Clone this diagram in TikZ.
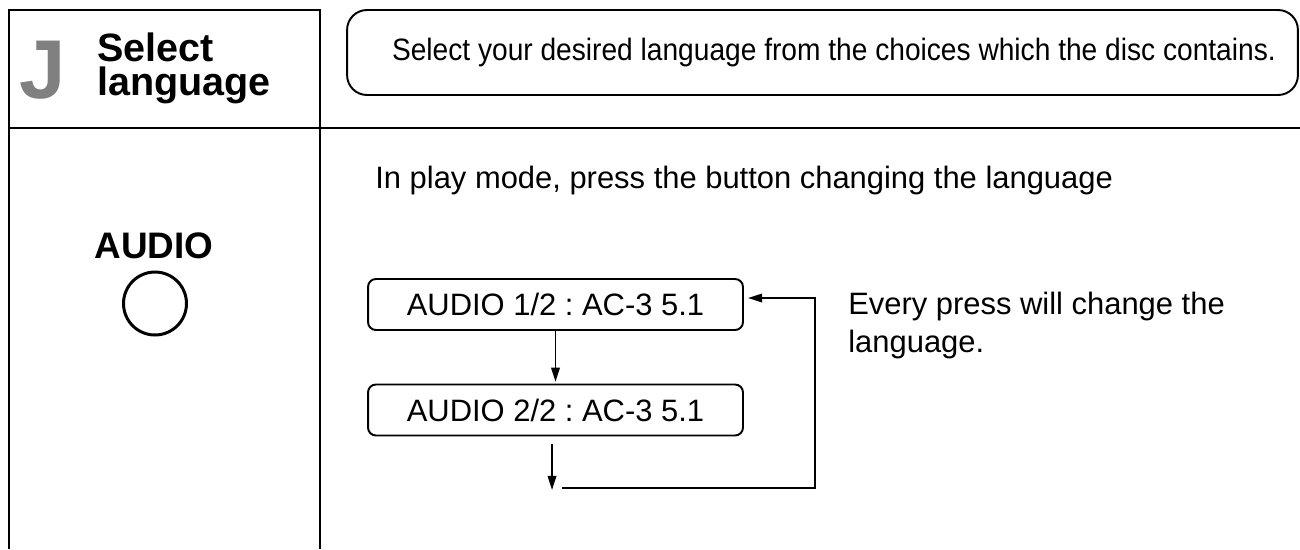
\documentclass[tikz,border=0pt]{standalone}
\usepackage{fontspec}
\setmainfont{Liberation Sans}
\newfontfamily\narrowfont{Liberation Sans}[FakeStretch=0.91]
\usetikzlibrary{arrows.meta}
\usetikzlibrary{positioning}
\frenchspacing

\begin{document}
\begin{tikzpicture}[
    x=0.02cm, y=-0.02cm,
    frame/.style={line width=1.1pt},
    track/.style={draw, line width=1.1pt, rounded corners=4.5pt, minimum width=7.5cm, minimum height=1.02cm, inner sep=0pt, font=\fontsize{17.6}{21.5}\selectfont},
    plain/.style={inner sep=0pt, font=\fontsize{17.6}{21.5}\selectfont},
    >={Triangle[length=8pt, width=4.8pt]}
]
\useasboundingbox (0,0) rectangle (1300,549);

% --- Frame ---
\draw[frame] (9,549) -- (9,10) -- (320,10) -- (320,549);
\draw[frame] (9,128) -- (1300,128);

% --- Heading ---
\node[inner sep=0pt, text=gray, font=\bfseries\fontsize{47.5}{50}\selectfont] (letter) at (43,70) {J};
\node[inner sep=0pt, anchor=base west, font=\bfseries\fontsize{22.5}{24}\selectfont] (title) at (97,61) {Select};
\node[inner sep=0pt, anchor=base west, font=\bfseries\fontsize{22.5}{24}\selectfont] (title2) at (97,95) {language};
\node[draw, line width=1.1pt, rounded corners=11.3pt, minimum width=19.02cm, minimum height=1.7cm, inner sep=0pt, font=\narrowfont\fontsize{17.6}{21.5}\selectfont] (intro) at (822.5,52.5) {\hspace*{13pt}Select your desired language from the choices which the disc contains.};

% --- Button ---
\node[inner sep=0pt, anchor=base, font=\bfseries\fontsize{21}{24}\selectfont] (audio) at (154,258) {AUDIO};
\node[circle, draw, line width=1.7pt, minimum size=1.26cm, inner sep=0pt] (btn) at (155,303.5) {};

% --- Steps ---
\node[plain, anchor=base west] (hint) at (375,188) {In play mode, press the button changing the language};
\foreach \i/\y in {1/304.5, 2/410}
    \node[track] (a\i) at (555.5,\y) {AUDIO \i/2 : AC-3 5.1};
\node[plain, anchor=north west, align=left] (note) at (848,292) {Every press will change the\\language.};

% --- Loop ---
\coordinate (down) at (552,490);
\coordinate (back) at (562,488);
\coordinate (turn) at (815,298);
\draw[->, line width=1.1pt, shorten >=1pt] (a1) -- (a2);
\draw[->, line width=1.1pt, shorten <=4pt] (a2.south -| down) -- (down);
\draw[->, line width=1.1pt] (back) -| (turn) -- ([xshift=2.3pt]a1.east |- turn);

\end{tikzpicture}
\end{document}
